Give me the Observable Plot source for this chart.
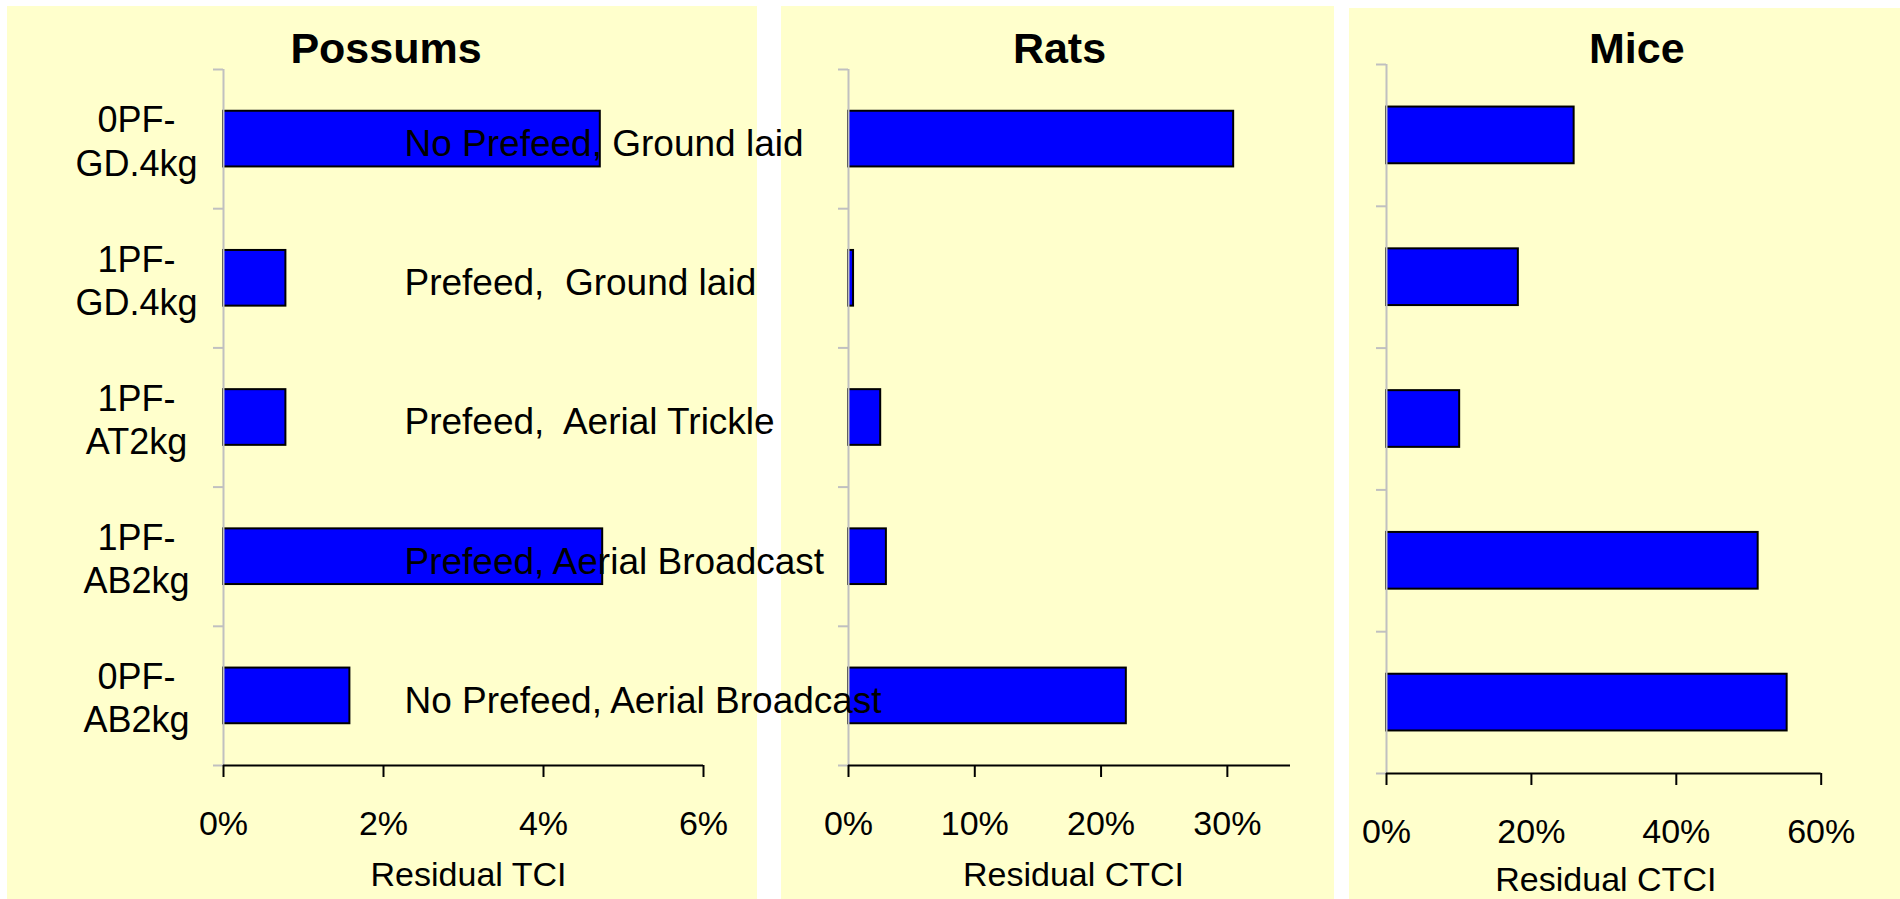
<!DOCTYPE html>
<html>
<head>
<meta charset="utf-8">
<script src="https://cdn.jsdelivr.net/npm/d3@7"></script>
<script src="https://cdn.jsdelivr.net/npm/@observablehq/plot@0.6"></script>
<style>
  html, body { margin: 0; padding: 0; background: #ffffff; }
  #chart { position: relative; width: 1900px; height: 899px; overflow: hidden; }
  .panel { position: absolute; background: #ffffcc; }
  .panel svg { overflow: visible; }
  svg text { white-space: pre; }
</style>
</head>
<body>
<div id="chart"></div>
<script>
// ---- Data ----
const categories = ["0PF-GD.4kg", "1PF-GD.4kg", "1PF-AT2kg", "1PF-AB2kg", "0PF-AB2kg"];
const categoryLabels = ["0PF-\nGD.4kg", "1PF-\nGD.4kg", "1PF-\nAT2kg", "1PF-\nAB2kg", "0PF-\nAB2kg"];
const annotations = [
  "No Prefeed, Ground laid",
  "Prefeed,  Ground laid",
  "Prefeed,  Aerial Trickle",
  "Prefeed, Aerial Broadcast",
  "No Prefeed, Aerial Broadcast"
];
const possumsTCI = [0.0471, 0.0078, 0.0078, 0.0474, 0.0158];
const ratsCTCI   = [0.305, 0.004, 0.0255, 0.030, 0.220];
const miceCTCI   = [0.259, 0.182, 0.101, 0.513, 0.553];

const panelTitles = ["Possums", "Rats", "Mice"];
const axisLabels  = ["Residual TCI", "Residual CTCI", "Residual CTCI"];
const xDomains    = [[0, 0.06], [0, 0.35], [0, 0.6]];
const xTickValues = [[0, 0.02, 0.04, 0.06], [0, 0.1, 0.2, 0.3], [0, 0.2, 0.4, 0.6]];

// ---- Layout ----
const FONT = "'Liberation Sans', Arial, Helvetica, sans-serif";
const PAD = 0.3; // bar occupies 40% of each category slot
const layouts = [
  {left: 7,    top: 6, width: 750, height: 893, mL: 216, mR: 54,   mT: 63, mB: 134, titleDx: -77.5, titleDy: -7, labDx: 5, labDy: 120, z: 3},
  {left: 781,  top: 6, width: 553, height: 893, mL: 67,  mR: 44,   mT: 63, mB: 134, titleDx: -10,   titleDy: -7, labDx: 4, labDy: 120, z: 1},
  {left: 1349, top: 8, width: 551, height: 891, mL: 37,  mR: 79.3, mT: 56, mB: 126, titleDx: 33,    titleDy: -2, labDx: 2, labDy: 117, z: 1}
];
const seriesValues = [possumsTCI, ratsCTCI, miceCTCI];

const chart = document.getElementById("chart");
const N = categories.length;

seriesValues.forEach((values, p) => {
  const L = layouts[p];
  const data = categories.map((c, i) => ({cat: c, label: categoryLabels[i], note: annotations[i], value: values[i], i}));
  const marks = [
    Plot.rect(data, {
      x1: 0, x2: "value",
      y1: d => d.i + PAD, y2: d => d.i + 1 - PAD,
      fill: "#0000ff", stroke: "#000000", strokeWidth: 2, inset: 0
    }),
    Plot.ruleX([0], {stroke: "#c0c0c0", strokeWidth: 2}),
    Plot.axisY(d3.range(N + 1), {tickSize: 10, tickFormat: () => "", stroke: "#c0c0c0", strokeWidth: 2, label: null}),
    Plot.ruleY([N], {x1: xDomains[p][0], x2: xDomains[p][1], stroke: "#000000", strokeWidth: 2}),
    Plot.axisX(xTickValues[p], {
      tickSize: 12, tickPadding: 33, tickFormat: d3.format(".0%"),
      stroke: "#000000", strokeWidth: 2, fontSize: 34, fill: "#000000", label: null
    }),
    Plot.text([panelTitles[p]], {
      frameAnchor: "top", lineAnchor: "bottom", dx: L.titleDx, dy: L.titleDy,
      fontSize: 43, fontWeight: "bold", fill: "#000000"
    }),
    Plot.text([axisLabels[p]], {
      frameAnchor: "bottom", lineAnchor: "bottom", dx: L.labDx, dy: L.labDy,
      fontSize: 34, fill: "#000000"
    })
  ];
  if (p === 0) {
    marks.push(
      Plot.text(data, {
        x: 0, y: d => d.i + 0.5, text: "label",
        dx: -87, dy: 1, textAnchor: "middle", lineHeight: 1.2,
        fontSize: 36, fill: "#000000"
      }),
      Plot.text(data, {
        x: 0, y: d => d.i + 0.5, text: "note",
        dx: 181, dy: 5, textAnchor: "start",
        fontSize: 37, fill: "#000000"
      })
    );
  }
  const svg = Plot.plot({
    width: L.width, height: L.height,
    marginLeft: L.mL, marginRight: L.mR, marginTop: L.mT, marginBottom: L.mB,
    style: {background: "transparent", overflow: "visible", fontFamily: FONT, fontSize: "34px", color: "#000"},
    x: {domain: xDomains[p]},
    y: {domain: [0, N], reverse: true},
    marks
  });
  const div = document.createElement("div");
  div.className = "panel";
  div.style.left = L.left + "px";
  div.style.top = L.top + "px";
  div.style.width = L.width + "px";
  div.style.height = L.height + "px";
  div.style.zIndex = L.z;
  div.appendChild(svg);
  chart.appendChild(div);
});
</script>
</body>
</html>
